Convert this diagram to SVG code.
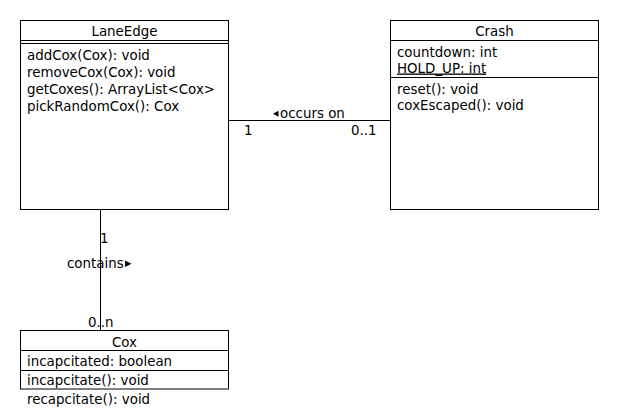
<svg xmlns="http://www.w3.org/2000/svg" width="620" height="410" viewBox="0 0 620 410">
<style>
.box{fill:#fff;stroke:#000;stroke-width:1}
.ln{stroke:#000;stroke-width:1;fill:none}
.tri{fill:#000;stroke:none}
text{font-family:"DejaVu Sans","Liberation Sans",sans-serif;font-size:13.4px;fill:#000}
.c{text-anchor:middle}
</style>
<rect width="620" height="410" fill="#fff"/>
<g id="connectors">
<line class="ln" x1="228.5" y1="120.5" x2="390.5" y2="120.5"/>
<text x="244" y="135">1</text>
<text x="351" y="135">0..1</text>
<polygon class="tri" points="273,113.8 278.5,110.8 278.5,116.8"/>
<text x="280" y="117.5">occurs on</text>
<line class="ln" x1="100.5" y1="209.5" x2="100.5" y2="330.5"/>
<text x="100" y="243">1</text>
<text x="67" y="267.5">contains</text>
<polygon class="tri" points="125,260.5 125,267 131.5,263.8"/>
<text x="88" y="327">0..n</text>
</g>
<g id="LaneEdge">
<rect class="box" x="20.5" y="20.5" width="208" height="189"/>
<line class="ln" x1="20.5" y1="40.5" x2="228.5" y2="40.5"/>
<line class="ln" x1="20.5" y1="43.5" x2="228.5" y2="43.5"/>
<text class="c" x="124.5" y="36">LaneEdge</text>
<text x="27" y="60">addCox(Cox): void</text>
<text x="27" y="77">removeCox(Cox): void</text>
<text x="27" y="94">getCoxes(): ArrayList&lt;Cox&gt;</text>
<text x="27" y="111">pickRandomCox(): Cox</text>
</g>
<g id="Crash">
<rect class="box" x="390.5" y="20.5" width="208" height="189"/>
<line class="ln" x1="390.5" y1="40.5" x2="598.5" y2="40.5"/>
<line class="ln" x1="390.5" y1="77.5" x2="598.5" y2="77.5"/>
<text class="c" x="494.5" y="36">Crash</text>
<text x="397" y="56.5">countdown: int</text>
<text x="397" y="72.5" text-decoration="underline">HOLD_UP: int</text>
<text x="397" y="93.5">reset(): void</text>
<text x="397" y="110">coxEscaped(): void</text>
</g>
<g id="Cox">
<rect class="box" x="20.5" y="330.5" width="208" height="58.5"/>
<line class="ln" x1="20.5" y1="350.5" x2="228.5" y2="350.5"/>
<line class="ln" x1="20.5" y1="370.5" x2="228.5" y2="370.5"/>
<text class="c" x="124.5" y="346.5">Cox</text>
<text x="27" y="366">incapcitated: boolean</text>
<text x="27" y="385">incapcitate(): void</text>
<text x="27" y="404">recapcitate(): void</text>
</g>
</svg>
